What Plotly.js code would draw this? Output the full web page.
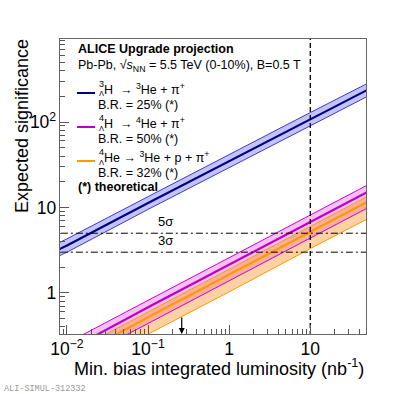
<!DOCTYPE html>
<html>
<head>
<meta charset="utf-8">
<script src="https://cdn.plot.ly/plotly-3.0.1.min.js"></script>
<style>
  html, body { margin: 0; padding: 0; background: #fff; }
  #chart { width: 407px; height: 394px; }
</style>
</head>
<body>
<div id="chart"></div>
<script>
// integrated luminosity (nb^-1) at which the curves were read
const lumi = [0.005, 0.01, 0.1, 1, 10, 50];

// 3LH -> 3He + pi
const h3Central = [2.6, 3.6, 11.3, 35, 108, 236];
const h3Upper = [3.1, 4.3, 13.4, 42, 129, 281];
const h3Lower = [2.2, 3.0, 9.5, 29.4, 91, 198];

// 4LH -> 4He + pi
const h4Central = [0.15, 0.21, 0.68, 2.14, 6.8, 15.1];
const h4Upper = [0.18, 0.26, 0.82, 2.6, 8.2, 18.2];
const h4Lower = [0.10, 0.14, 0.44, 1.39, 4.4, 9.8];

// 4LHe -> 3He + p + pi
const he4Central = [0.12, 0.16, 0.52, 1.64, 5.2, 11.6];
const he4Upper = [0.135, 0.19, 0.60, 1.9, 6.0, 13.4];
const he4Lower = [0.073, 0.10, 0.33, 1.03, 3.3, 7.3];

const sigmaLevels = [5, 3];
const sigmaLabels = ["5σ", "3σ"];
const refLumi = 10;
const arrowLumi = 0.26;

const FONT = "Liberation Sans, Arial, Helvetica, sans-serif";
const xFar = [0.001, 100];

// frame in pixels -> paper coords for the text block
const L0 = 60, R0 = 366, T0 = 39, B0 = 334;
const px = v => (v - L0) / (R0 - L0);
const py = v => (B0 - v) / (B0 - T0);

function edge(y, color, width) {
  return { x: lumi, y, mode: "lines", line: { color, width }, hoverinfo: "skip" };
}
function band(lo, hi, fill) {
  return [
    { x: lumi, y: lo, mode: "lines", line: { width: 0 }, hoverinfo: "skip" },
    { x: lumi, y: hi, mode: "lines", line: { width: 0 }, fill: "tonexty", fillcolor: fill, hoverinfo: "skip" }
  ];
}

const traces = [
  ...band(h3Lower, h3Upper, "rgba(60,60,220,0.30)"),
  edge(h3Lower, "#3b3bd6", 1),
  edge(h3Upper, "#3b3bd6", 1),
  edge(h3Central, "#00008c", 2.2),
  ...band(h4Lower, h4Upper, "rgba(230,80,230,0.35)"),
  edge(h4Upper, "#d000d0", 1),
  ...band(he4Lower, he4Upper, "rgba(255,153,51,0.45)"),
  edge(he4Lower, "#ff9900", 1),
  edge(he4Upper, "#ff9900", 1),
  edge(h4Lower, "#d000d0", 1),
  edge(h4Central, "#c000c0", 2.2),
  edge(he4Central, "#ff9900", 2.2),
  { x: [refLumi, refLumi], y: [0.01, 10000], mode: "lines", line: { color: "#000", width: 1.3, dash: "5px,3px" }, hoverinfo: "skip" }
];
sigmaLevels.forEach(s => {
  traces.push({ x: xFar, y: [s, s], mode: "lines", line: { color: "#000", width: 1, dash: "7px,3px,2px,3px" }, hoverinfo: "skip" });
});

const axisBase = {
  type: "log",
  dtick: 1,
  exponentformat: "power",
  ticks: "inside",
  ticklen: 9,
  tickcolor: "#555",
  tickwidth: 1,
  showline: true,
  linecolor: "#666",
  linewidth: 1,
  mirror: true,
  showgrid: false,
  zeroline: false,
  tickfont: { family: FONT, size: 14, color: "#000" },
  minor: { ticks: "inside", ticklen: 5, dtick: "D1", tickcolor: "#555", showgrid: false }
};

const annotations = [];
function txt(text, x, y, opts = {}) {
  annotations.push(Object.assign({
    text, x: px(x), y: py(y), xref: "paper", yref: "paper",
    xanchor: "left", yanchor: "middle", showarrow: false,
    font: { family: FONT, size: 12.5, color: "#000" }
  }, opts));
}

txt("<b>ALICE Upgrade projection</b>", 76, 49);
txt("Pb-Pb, √<i>s</i><sub>NN</sub> = 5.5 TeV (0-10%), B=0.5 T", 76, 66);

const rows = [
  { y: 89, a: "3", main: "H  → <sup>3</sup>He + π<sup>+</sup>", br: "B.R. = 25% (*)", color: "#00008c" },
  { y: 123, a: "4", main: "H  → <sup>4</sup>He + π<sup>+</sup>", br: "B.R. = 50% (*)", color: "#c000c0" },
  { y: 157, a: "4", main: "He → <sup>3</sup>He + p + π<sup>+</sup>", br: "B.R. = 32% (*)", color: "#ff9900" }
];
const shapes = [];
rows.forEach(r => {
  txt(r.a, 96.5, r.y - 5, { font: { family: FONT, size: 9, color: "#000" } });
  txt("Λ", 96.5, r.y + 5, { font: { family: FONT, size: 7.5, color: "#000" } });
  txt(r.main, 102, r.y);
  txt(r.br, 96, r.y + 16);
  shapes.push({ type: "line", xref: "paper", yref: "paper", x0: px(77), x1: px(95), y0: py(r.y + 4), y1: py(r.y + 4), line: { color: r.color, width: 2 } });
});
txt("<b>(*) theoretical</b>", 76, 187);

sigmaLevels.forEach((s, i) => {
  annotations.push({
    text: sigmaLabels[i], x: Math.log10(0.125), y: Math.log10(s), xref: "x", yref: "y",
    xanchor: "left", yanchor: "bottom", yshift: 2, showarrow: false,
    font: { family: FONT, size: 13, color: "#000" }
  });
});

annotations.push({
  text: "", x: Math.log10(arrowLumi), y: 0, xref: "x", yref: "paper",
  showarrow: true, ax: 0, ay: -18, arrowhead: 2, arrowsize: 1, arrowwidth: 1.2, arrowcolor: "#000"
});

annotations.push({
  text: "Expected significance", textangle: -90, x: px(22), y: py(126), xref: "paper", yref: "paper",
  xanchor: "center", yanchor: "middle", showarrow: false,
  font: { family: FONT, size: 18, color: "#000" }
});
annotations.push({
  text: "Min. bias integrated luminosity (nb<sup>-1</sup>)", x: px(366), y: py(367), xref: "paper", yref: "paper",
  xanchor: "right", yanchor: "middle", showarrow: false,
  font: { family: FONT, size: 18, color: "#000" }
});
annotations.push({
  text: "ALI-SIMUL-312332", x: px(2), y: py(389), xref: "paper", yref: "paper",
  xanchor: "left", yanchor: "middle", showarrow: false,
  font: { family: "Liberation Mono, DejaVu Sans Mono, monospace", size: 8.5, color: "#999" }
});

const layout = {
  width: 407,
  height: 394,
  margin: { l: L0, r: 407 - R0, t: T0, b: 394 - B0 },
  paper_bgcolor: "#fff",
  plot_bgcolor: "#fff",
  showlegend: false,
  xaxis: Object.assign({}, axisBase, { range: [-2.086, 1.687] }),
  yaxis: Object.assign({}, axisBase, { range: [-0.48, 2.971] }),
  annotations,
  shapes
};

Plotly.newPlot("chart", traces, layout, { staticPlot: true });
</script>
</body>
</html>
